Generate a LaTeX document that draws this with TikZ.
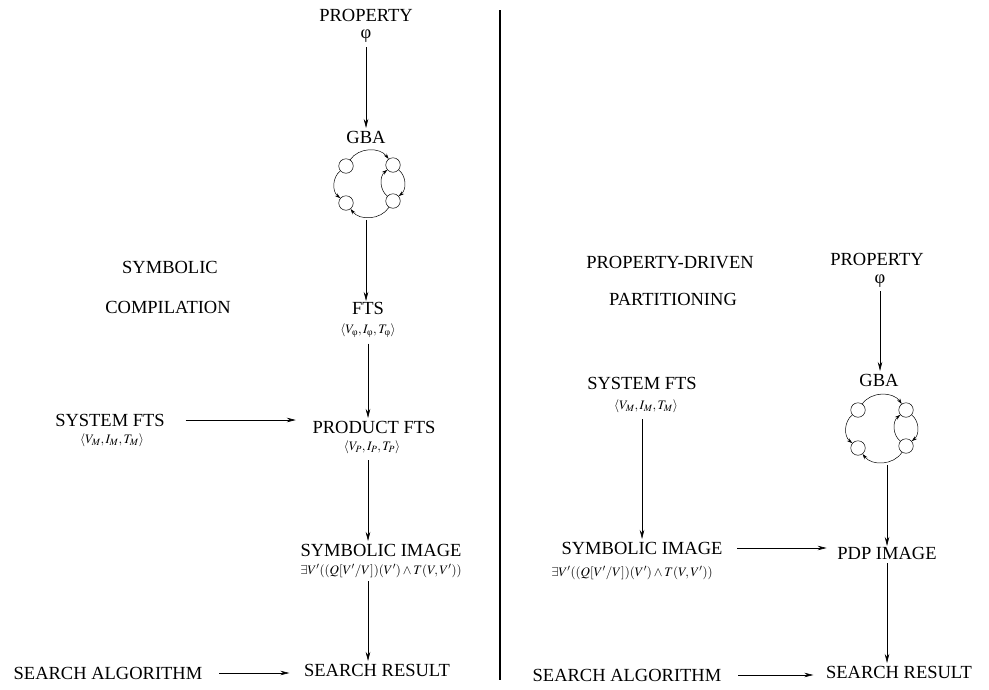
\documentclass[tikz,border=0pt]{standalone}
\usepackage{amsmath}
\usepackage{mathptmx}
\usepackage[no-math]{fontspec}
\setmainfont{Liberation Serif}
\usetikzlibrary{
    arrows.meta,
    automata,
    fit,
    positioning
}
\tikzset{
    every picture/.style = {
        > = Stealth,
        line width = 0.6pt
    },
    every state/.style = {
        inner sep = 0pt,
        minimum size = 14.5pt,
        line width = 0.5pt
    },
    title/.style = {
        font = \fontsize{18.5}{20}\selectfont,
        inner sep = 0.5pt
    },
    formula/.style = {
        font = \fontsize{13}{14}\selectfont,
        inner sep = 0.5pt
    },
    flow/.style = {-{Stealth[length=9pt, width=4.5pt]}},
    ring/.style = {-{Stealth[length=5.5pt, width=3.5pt]}, line width = 0.5pt}
}

\begin{document}
\begin{tikzpicture}[x=1pt, y=-1pt]
    \useasboundingbox (0,0) rectangle (989,689);

    % divider
    \draw[line width = 2.7pt] (500,10) -- (500,680);

    % ---- symbolic compilation ----
    \node[title] (sym) at (170,267) {SYMBOLIC};
    \node[title] (comp) at (168,307) {COMPILATION};

    \node[title] (prop1) at (366,15) {PROPERTY};
    \node[title] (phi1) at (366,36) {φ};
    \node[title] (gba1) at (366,137) {GBA};

    \node[state] (q1) at (346,166) {};
    \node[state] (q2) at (393,165) {};
    \node[state] (q3) at (346,203) {};
    \node[state] (q4) at (393,201) {};
    \path[ring] (q1) edge[bend left = 55] (q2);
    \path[ring] (q1) edge[bend right = 50] (q3);
    \path[ring] (q2) edge[bend left = 50] (q4);
    \path[ring] (q4) edge[bend left = 50] (q2);
    \path[ring] (q4) edge[bend left = 55] (q3);
    \node[fit = (q1)(q2)(q3)(q4), inner sep = 9pt] (aut1) {};

    \node[title] (fts1) at (368,308) {FTS};
    \node[formula] (fts1f) at (368,331) {$\langle V_{\text{φ}}, I_{\text{φ}}, T_{\text{φ}}\rangle$};

    \node[title] (prod1) at (374,427) {PRODUCT FTS};
    \node[formula] (prod1f) at (372,447) {$\langle V_P, I_P, T_P\rangle$};

    \node[title] (sys1) at (110,420) {SYSTEM FTS};
    \node[formula] (sys1f) at (112,440) {$\langle V_M, I_M, T_M\rangle$};

    \node[title] (img1) at (381,550) {SYMBOLIC IMAGE};
    \node[formula] (img1f) at (381,571) {$\exists V'((Q[V'/V])(V')\wedge T(V,V'))$};

    \node[title] (alg1) at (108,673) {SEARCH ALGORITHM};
    \node[title] (res1) at (377,670) {SEARCH RESULT};

    \draw[flow, shorten <= 4pt, shorten >= 2pt] (phi1.south) -- (phi1.south |- gba1.north);
    \draw[flow] (aut1.south -| gba1) -- (gba1 |- fts1.north);
    \draw[flow, shorten <= 5pt, shorten >= 2pt] (fts1f.south) -- (fts1f.south |- prod1.north);
    \draw[flow, shorten <= 20pt, shorten >= 16pt] (sys1.east) -- (sys1.east -| prod1.west);
    \draw[flow, shorten <= 6pt, shorten >= 2pt] (fts1f.south |- prod1f.south) -- (fts1f.south |- img1.north);
    \draw[flow, shorten <= 3pt, shorten >= 2pt] (fts1f.south |- img1f.south) -- (fts1f.south |- res1.north);
    \draw[flow, shorten <= 16pt, shorten >= 14pt] (alg1.east) -- (res1.west |- alg1.east);

    % ---- property-driven partitioning ----
    \node[title] (pdp) at (670,263) {PROPERTY-DRIVEN};
    \node[title] (part) at (673,299) {PARTITIONING};

    \node[title] (prop2) at (877,259) {PROPERTY};
    \node[title] (phi2) at (880,281) {φ};
    \node[title] (gba2) at (879,380) {GBA};

    \node[state] (p1) at (858,410) {};
    \node[state] (p2) at (906,410) {};
    \node[state] (p3) at (858,448) {};
    \node[state] (p4) at (906,446) {};
    \path[ring] (p1) edge[bend left = 55] (p2);
    \path[ring] (p1) edge[bend right = 50] (p3);
    \path[ring] (p2) edge[bend left = 50] (p4);
    \path[ring] (p4) edge[bend left = 50] (p2);
    \path[ring] (p4) edge[bend left = 55] (p3);
    \node[fit = (p1)(p2)(p3)(p4), inner sep = 9pt] (aut2) {};

    \node[title] (sys2) at (642,383) {SYSTEM FTS};
    \node[formula] (sys2f) at (646,406) {$\langle V_M, I_M, T_M\rangle$};

    \node[title] (img2) at (642,548) {SYMBOLIC IMAGE};
    \node[formula] (img2f) at (632,573) {$\exists V'((Q[V'/V])(V')\wedge T(V,V'))$};

    \node[title] (pdpimg) at (887,553) {PDP IMAGE};

    \node[title] (alg2) at (627,675) {SEARCH ALGORITHM};
    \node[title] (res2) at (899,672) {SEARCH RESULT};

    \draw[flow, shorten <= 3pt, shorten >= 2pt] (phi2.south) -- (phi2.south |- gba2.north);
    \draw[flow] (aut2.south -| pdpimg) -- (pdpimg.north);
    \draw[flow, shorten <= 6pt, shorten >= 2pt] (sys2f.south -| sys2) -- (sys2 |- img2.north);
    \draw[flow, shorten <= 14pt, shorten >= 10pt] (img2.east) -- (img2.east -| pdpimg.west);
    \draw[flow, shorten <= 3pt, shorten >= 2pt] (pdpimg.south) -- (pdpimg.south |- res2.north);
    \draw[flow, shorten <= 16pt, shorten >= 12pt] (alg2.east) -- (res2.west |- alg2.east);
\end{tikzpicture}
\end{document}
